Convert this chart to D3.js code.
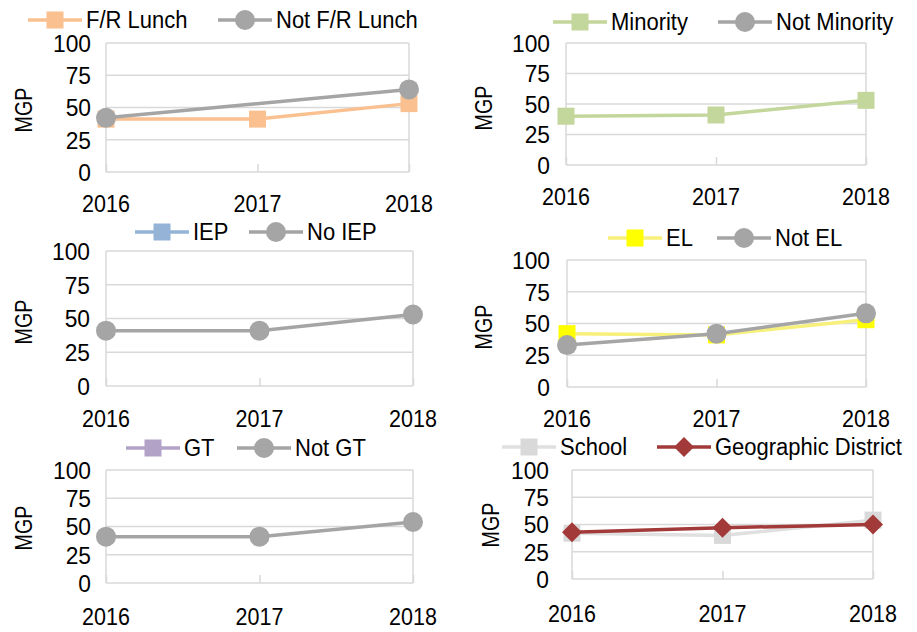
<!DOCTYPE html>
<html>
<head>
<meta charset="utf-8">
<script src="https://cdn.jsdelivr.net/npm/d3@7"></script>
<style>
  html, body { margin: 0; padding: 0; background: #fff; }
  svg { display: block; }
  text { font-family: "Liberation Sans", Arial, sans-serif; fill: #000; }
</style>
</head>
<body>
<svg id="chart" width="917" height="632"></svg>
<script>
// Median growth percentile (MGP) by student group, 2016-2018
const years = ["2016", "2017", "2018"];
const yTicks = [0, 25, 50, 75, 100];

const frLunch      = [41, 41, 53];
const notFrLunch   = [42, null, 64];
const minority     = [40, 41, 53];
const notMinority  = [null, null, null];
const iep          = [null, null, null];
const noIep        = [41, 41, 53];
const el           = [42, 41, 53];
const notEl        = [33, 42, 58];
const gt           = [null, null, null];
const notGt        = [41, 41, 54];
const school       = [42, 40, 54];
const geoDistrict  = [43, 47, 50];

const groupNames = [
  ["F/R Lunch", "Not F/R Lunch"],
  ["Minority", "Not Minority"],
  ["IEP", "No IEP"],
  ["EL", "Not EL"],
  ["GT", "Not GT"],
  ["School", "Geographic District"]
];
const groupValues = [
  [frLunch, notFrLunch],
  [minority, notMinority],
  [iep, noIep],
  [el, notEl],
  [gt, notGt],
  [school, geoDistrict]
];

// Styles per series: line colour, marker colour, marker shape
const styles = [
  [{line: "#FAC090", fill: "#FAC090", shape: "square"}, {line: "#A5A5A5", fill: "#A5A5A5", shape: "circle"}],
  [{line: "#C3D69B", fill: "#C3D69B", shape: "square"}, {line: "#A5A5A5", fill: "#A5A5A5", shape: "circle"}],
  [{line: "#95B3D7", fill: "#95B3D7", shape: "square"}, {line: "#A5A5A5", fill: "#A5A5A5", shape: "circle"}],
  [{line: "#F7F07A", fill: "#FFFF00", shape: "square"}, {line: "#A5A5A5", fill: "#A5A5A5", shape: "circle"}],
  [{line: "#B3A2C7", fill: "#B3A2C7", shape: "square"}, {line: "#A5A5A5", fill: "#A5A5A5", shape: "circle"}],
  [{line: "#E0E0E0", fill: "#D9D9D9", shape: "square"}, {line: "#A33A3A", fill: "#A33A3A", shape: "diamond"}]
];

// Panel geometry
const layout = [
  {l: 106, r: 409, t: 43,  b: 172, legY: 20,  legX: [28, 218],  yearY: 212, mgp: [23, 110],  lab: 91},
  {l: 566, r: 866, t: 43,  b: 165, legY: 22,  legX: [553, 718], yearY: 205, mgp: [483, 108], lab: 550},
  {l: 106, r: 413, t: 251, b: 386, legY: 232, legX: [135, 249], yearY: 427, mgp: [23, 322],  lab: 90},
  {l: 567, r: 866, t: 260, b: 387, legY: 238, legX: [608, 717], yearY: 427, mgp: [483, 327], lab: 550},
  {l: 106, r: 413, t: 470, b: 583, legY: 448, legX: [126, 237], yearY: 625, mgp: [23, 528],  lab: 91},
  {l: 572, r: 873, t: 470, b: 579, legY: 447, legX: [502, 657], yearY: 622, mgp: [490, 525], lab: 549}
];

const svg = d3.select("#chart");

// Text with independent horizontal/vertical scaling (slightly condensed face)
function label(g, x, y, str, opts) {
  const o = Object.assign({size: 22, sx: 1, sy: 1, anchor: "start", rot: 0, dy: "0.36em"}, opts);
  return g.append("text")
    .attr("transform", `translate(${x},${y}) rotate(${o.rot}) scale(${o.sx},${o.sy})`)
    .attr("dy", o.dy).attr("text-anchor", o.anchor)
    .attr("font-size", o.size).text(str);
}

function drawMarker(g, shape, color, cx, cy) {
  if (shape === "square") {
    g.append("rect").attr("x", cx - 8.5).attr("y", cy - 8.5)
      .attr("width", 17).attr("height", 17).attr("fill", color);
  } else if (shape === "circle") {
    g.append("circle").attr("cx", cx).attr("cy", cy).attr("r", 10).attr("fill", color);
  } else {
    const s = 10;
    g.append("path")
      .attr("d", `M${cx},${cy - s}L${cx + s},${cy}L${cx},${cy + s}L${cx - s},${cy}Z`)
      .attr("fill", color);
  }
}

layout.forEach((p, i) => {
  const g = svg.append("g");
  const x = d3.scalePoint().domain(years).range([p.l, p.r]);
  const y = d3.scaleLinear().domain([0, 100]).range([p.b, p.t]);

  // gridlines
  g.append("g").selectAll("line").data(yTicks.filter(v => v > 0)).join("line")
    .attr("x1", p.l).attr("x2", p.r)
    .attr("y1", d => y(d)).attr("y2", d => y(d))
    .attr("stroke", "#D9D9D9").attr("stroke-width", 1.5);

  // plot frame sides
  [p.l, p.r].forEach(xx => {
    g.append("line").attr("x1", xx).attr("x2", xx).attr("y1", y(100)).attr("y2", y(0))
      .attr("stroke", "#D9D9D9").attr("stroke-width", 1.5);
  });

  // category axis
  const xAxis = g.append("g").attr("transform", `translate(0,${y(0)})`)
    .call(d3.axisBottom(x).tickSize(-8).tickPadding(0).tickFormat(() => ""));
  xAxis.select(".domain").attr("stroke", "#D9D9D9").attr("stroke-width", 1.5)
    .attr("d", `M${p.l},0H${p.r}`);
  xAxis.selectAll(".tick line").attr("stroke", "#D9D9D9").attr("stroke-width", 1.5);

  years.forEach(yr => label(g, x(yr), p.yearY, yr,
    {size: 21.5, sy: 1.1, anchor: "middle", dy: 0}));

  // value axis labels
  yTicks.forEach(v => label(g, p.lab, y(v), v,
    {size: 24, sx: 0.95, sy: 1.02, anchor: "end"}));

  label(g, p.mgp[0], p.mgp[1], "MGP",
    {size: 24, sx: 0.82, sy: 1.0, anchor: "middle", rot: -90});

  // series
  groupValues[i].forEach((vals, k) => {
    const st = styles[i][k];
    const pts = years.map((yr, j) => ({yr, v: vals[j]})).filter(d => d.v != null);
    if (!pts.length) return;
    const line = d3.line().x(d => x(d.yr)).y(d => y(d.v));
    g.append("path").datum(pts).attr("d", line)
      .attr("fill", "none").attr("stroke", st.line).attr("stroke-width", 3.5)
      .attr("stroke-linejoin", "round");
    pts.forEach(d => drawMarker(g, st.shape, st.fill, x(d.yr), y(d.v)));
  });

  // legend
  groupNames[i].forEach((name, k) => {
    const st = styles[i][k];
    const lx = p.legX[k];
    const lg = g.append("g");
    lg.append("line").attr("x1", lx).attr("x2", lx + 54)
      .attr("y1", p.legY).attr("y2", p.legY)
      .attr("stroke", st.line).attr("stroke-width", 3.5);
    drawMarker(lg, st.shape, st.fill, lx + 27, p.legY);
    label(lg, lx + 58, p.legY, name, {size: 22, sy: 1.07});
  });
});
</script>
</body>
</html>
